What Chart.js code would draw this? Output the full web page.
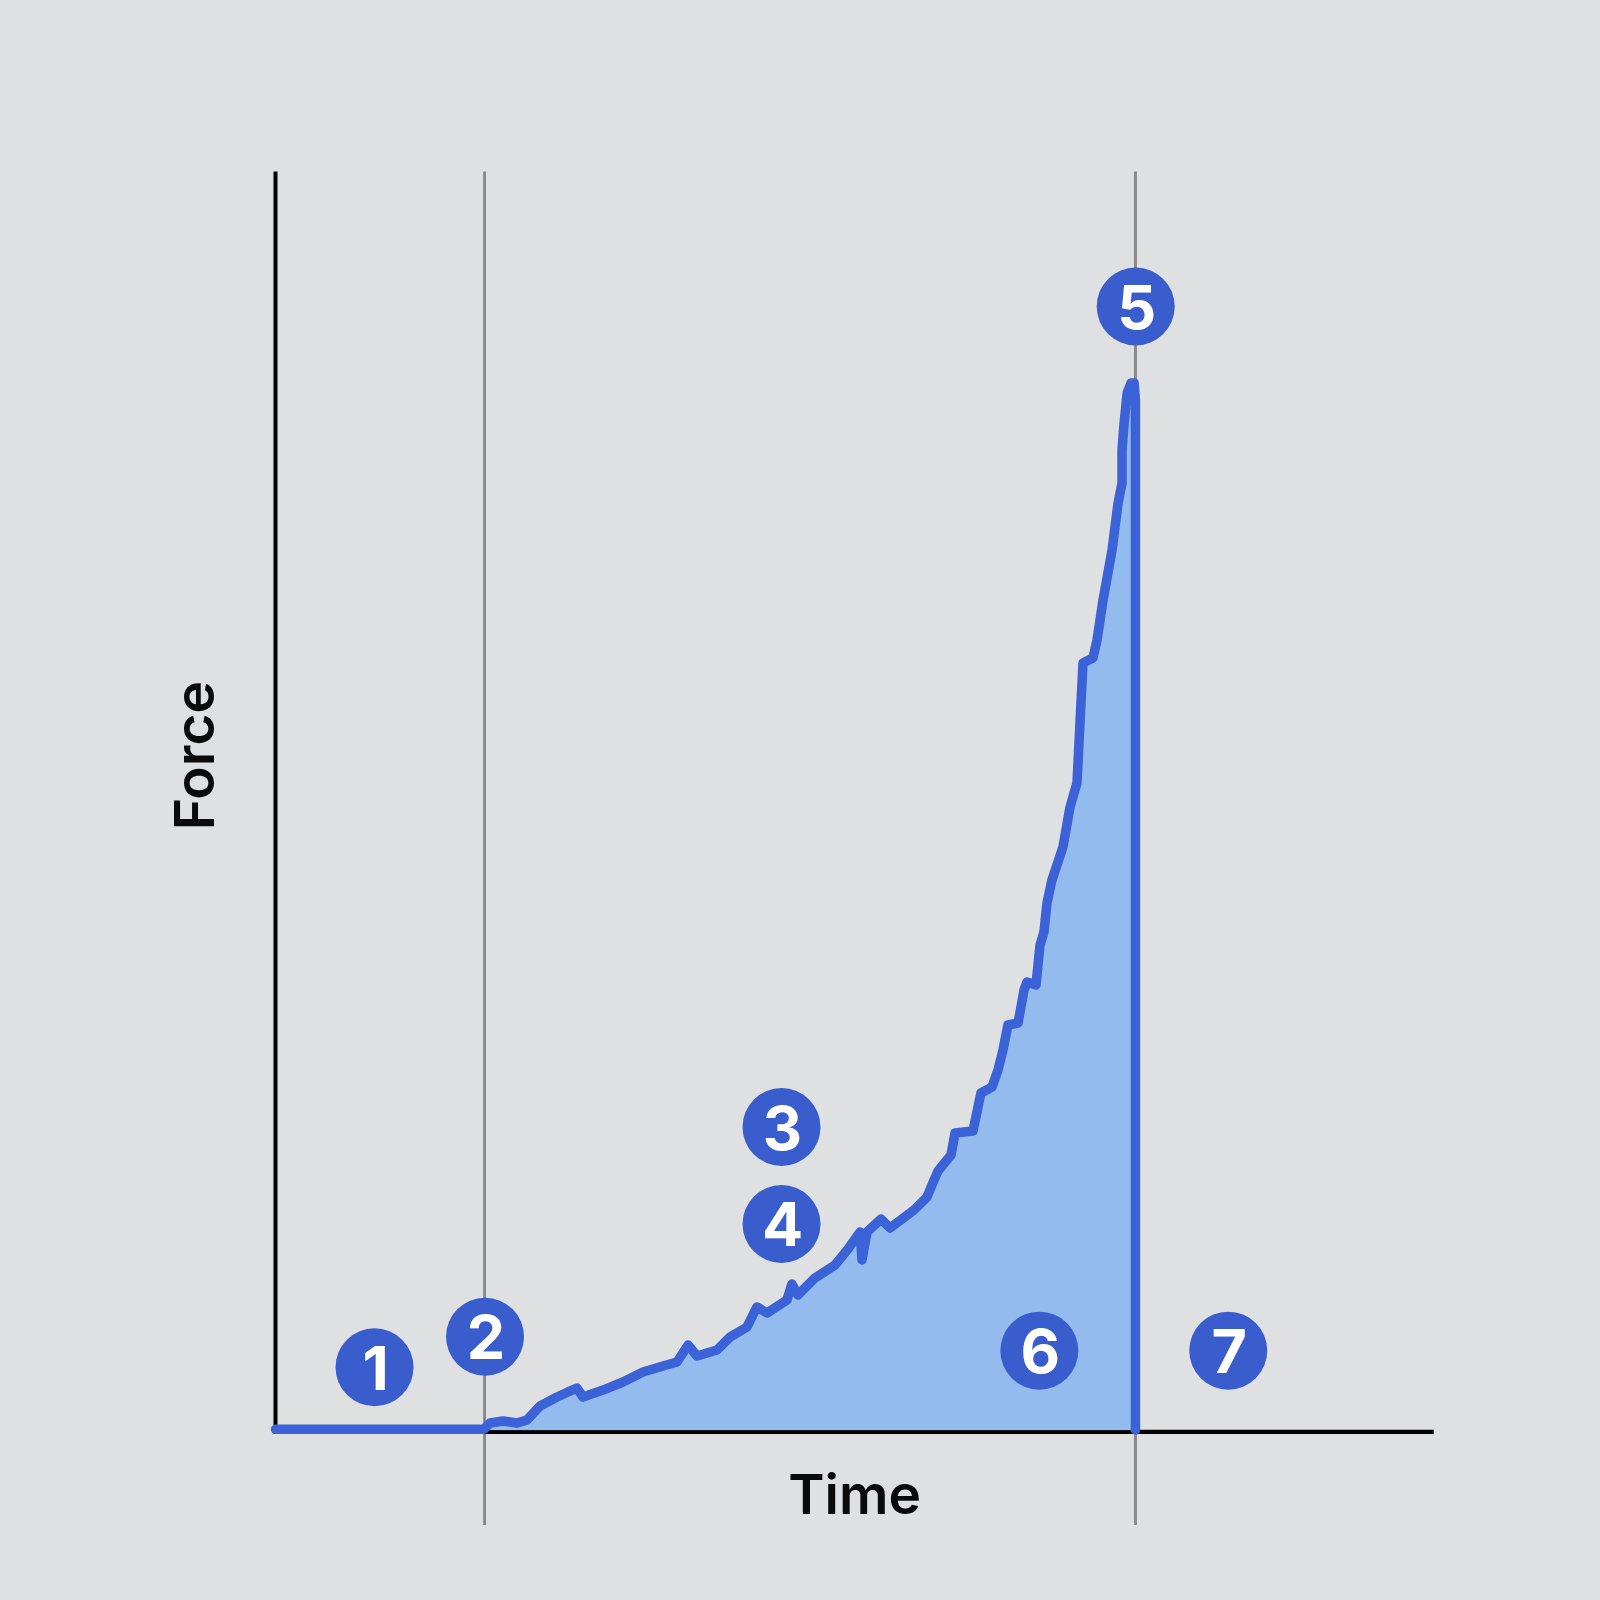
<!DOCTYPE html>
<html><head><meta charset="utf-8">
<script src="https://cdn.jsdelivr.net/npm/chart.js@4"></script>
<style>html,body{margin:0;padding:0;background:#dfe0e2}canvas{display:block}</style>
</head><body>
<canvas id="c" width="1600" height="1600"></canvas>
<script>
// ---- data (time / force in arbitrary units, 0..100) ----
const timeValues = [0, 18.0, 18.52, 19.65, 20.85, 21.71, 22.84, 24.31, 25.25, 26.03, 26.55,
  28.28, 30.0, 31.73, 33.46, 34.67, 35.62, 36.39, 38.12, 39.24, 40.71,
  41.57, 42.44, 44.16, 44.59, 45.11, 46.58, 48.31, 49.43, 50.47, 50.64,
  51.07, 52.28, 53.06, 55.13, 56.25, 56.86, 57.20, 58.32, 58.67, 60.22,
  60.91, 61.86, 62.38, 62.81, 63.24, 64.11, 64.63, 64.89, 65.66, 66.01,
  66.35, 66.61, 67.04, 67.99, 68.60, 69.20, 69.46, 69.72, 70.58, 70.93,
  71.45, 72.23, 72.75, 73.09, 73.09, 73.27, 73.53, 73.87, 74.13, 74.25, 74.25];
const forceValues = [0.1, 0.1, 0.6, 0.76, 0.6, 0.84, 1.95, 2.67, 3.07, 3.38, 2.67,
  3.22, 3.86, 4.65, 5.13, 5.45, 6.80, 5.92, 6.40, 7.43, 8.23,
  9.82, 9.34, 10.37, 11.64, 10.77, 12.12, 13.15, 14.42, 15.77, 13.55,
  15.77, 16.80, 16.09, 17.52, 18.55, 19.90, 20.61, 21.88, 23.63, 23.79,
  26.81, 27.28, 28.63, 30.22, 32.21, 32.37, 34.99, 35.63, 35.39, 38.56,
  39.60, 41.90, 43.72, 46.35, 49.52, 51.43, 56.19, 60.96, 61.36, 62.79,
  65.96, 69.93, 73.67, 75.25, 77.87, 80.02, 82.40, 83.2, 83.2, 81.85, 0.05];
const phaseLineTimes = [18.05, 74.25];
const markerLabels = ['1', '2', '3', '4', '5', '6', '7'];
const markerTimes  = [8.55, 18.09, 43.69, 43.69, 74.27, 65.95, 82.26];
const markerForces = [5.03, 7.46, 24.11, 16.41, 89.27, 6.35, 6.35];
const xAxisTitle = 'Time';
const yAxisTitle = 'Force';
const axisMin = 0, axisMax = 100;

// ---- styles ----
const BG = '#dfe0e2';
const LINE = '#3b62d6';
const FILL = '#93bbee';
const MARK = '#3a5dcd';
const GRAY = '#8a8a8a';

const points = timeValues.map((t, i) => ({x: t, y: forceValues[i]}));

const decor = {
  id: 'decor',
  beforeDraw(chart) {
    const c = chart.ctx;
    c.save(); c.fillStyle = BG; c.fillRect(0, 0, chart.width, chart.height); c.restore();
  },
  beforeDatasetsDraw(chart) {
    const c = chart.ctx, xs = chart.scales.x, ys = chart.scales.y;
    const x0 = xs.getPixelForValue(axisMin), x1 = xs.getPixelForValue(axisMax);
    const y0 = ys.getPixelForValue(axisMin), yTop = ys.getPixelForValue(axisMax);
    c.save();
    // phase lines
    c.strokeStyle = GRAY; c.lineWidth = 3;
    phaseLineTimes.forEach(t => {
      const px = xs.getPixelForValue(t);
      c.beginPath(); c.moveTo(px, yTop); c.lineTo(px, ys.getPixelForValue(-7.5)); c.stroke();
    });
    // axes
    c.strokeStyle = '#000'; c.lineWidth = 4;
    c.beginPath(); c.moveTo(x0, yTop); c.lineTo(x0, y0 + 1); c.stroke();
    c.lineWidth = 4.3;
    c.beginPath(); c.moveTo(x0 - 2, y0 + 1.2); c.lineTo(x1, y0 + 1.2); c.stroke();
    c.restore();
  },
  afterDatasetsDraw(chart) {
    const c = chart.ctx, xs = chart.scales.x, ys = chart.scales.y, a = chart.chartArea;
    c.save();
    // markers
    markerLabels.forEach((lab, i) => {
      const px = xs.getPixelForValue(markerTimes[i]);
      const py = ys.getPixelForValue(markerForces[i]);
      c.fillStyle = MARK;
      c.beginPath(); c.arc(px, py, 39, 0, Math.PI * 2); c.fill();
      c.fillStyle = '#fff';
      c.font = '700 61px Inter, "Noto Sans", sans-serif';
      c.textAlign = 'center'; c.textBaseline = 'alphabetic';
      c.fillText(lab, px + 1, py + 22.5);
    });
    // axis titles
    c.fillStyle = '#0a0a0a';
    c.font = '600 55px Inter, "Noto Sans", sans-serif';
    c.textAlign = 'center'; c.textBaseline = 'alphabetic';
    c.fillText(xAxisTitle, (a.left + a.right) / 2, a.bottom + 83.5);
    c.translate(a.left - 62, ys.getPixelForValue(53.6));
    c.rotate(-Math.PI / 2);
    c.fillText(yAxisTitle, 0, 0);
    c.restore();
  }
};

new Chart(document.getElementById('c'), {
  type: 'line',
  data: {
    datasets: [{
      data: points,
      borderColor: LINE,
      backgroundColor: FILL,
      borderWidth: 9.5,
      fill: 'origin',
      clip: false,
      tension: 0,
      pointRadius: 0,
      borderJoinStyle: 'round',
      borderCapStyle: 'round'
    }]
  },
  options: {
    responsive: false,
    devicePixelRatio: 1,
    animation: false,
    layout: {padding: {left: 275.5, right: 166.3, top: 171.4, bottom: 169.4}},
    scales: {
      x: {type: 'linear', min: axisMin, max: axisMax, display: false},
      y: {type: 'linear', min: axisMin, max: axisMax, display: false}
    },
    plugins: {legend: {display: false}, tooltip: {enabled: false}}
  },
  plugins: [decor]
});
</script>
</body></html>
